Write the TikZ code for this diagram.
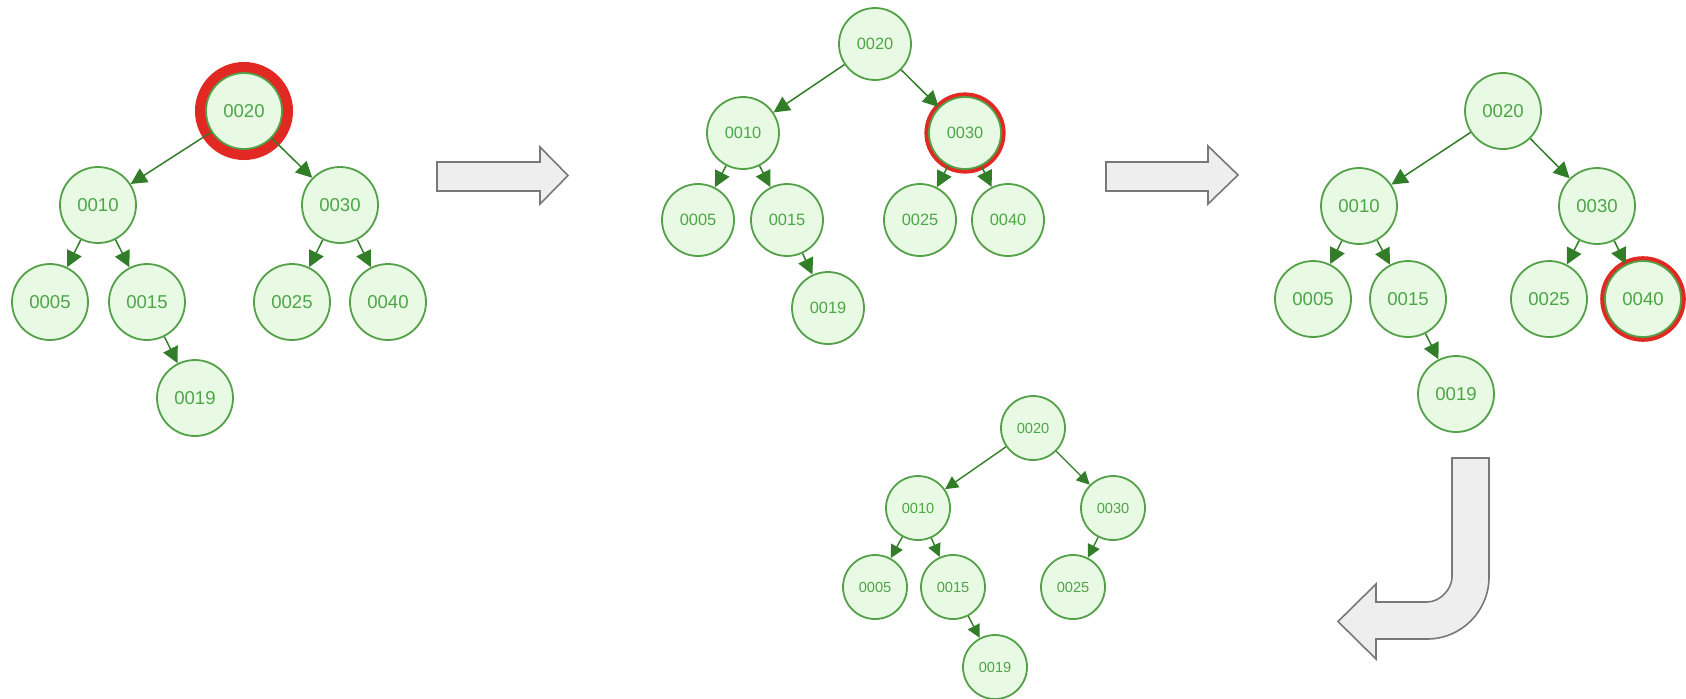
\documentclass[tikz,border=0pt]{standalone}
\usepackage{fontspec}
\setmainfont{Liberation Sans}
\usetikzlibrary{arrows.meta}
\pgfdeclarelayer{background}
\pgfsetlayers{background,main}
\definecolor{nodefill}{RGB}{232,250,228}
\definecolor{nodeline}{RGB}{84,160,72}
\definecolor{nodetext}{RGB}{78,165,72}
\definecolor{edgeline}{RGB}{50,125,40}
\definecolor{ringred}{RGB}{225,40,35}
\definecolor{bigfill}{RGB}{238,238,238}
\definecolor{bigline}{RGB}{120,120,120}
\tikzset{
  tn/.style={circle, draw=nodeline, fill=nodefill, text=nodetext, line width=0.9pt, inner sep=0pt},
  tnA/.style={tn, minimum size=38pt, font=\fontsize{9.3}{11}\selectfont},
  tnB/.style={tn, minimum size=36pt, font=\fontsize{8.2}{10}\selectfont},
  tnD/.style={tn, minimum size=32pt, font=\fontsize{7.3}{9}\selectfont},
  edgeA/.style={draw=edgeline, line width=0.75pt, -{Triangle[length=8pt,width=8pt]}, fill=edgeline},
  edgeD/.style={draw=edgeline, line width=0.7pt, -{Triangle[length=6.5pt,width=6.5pt]}, fill=edgeline},
  bigarrow/.style={draw=bigline, fill=bigfill, line width=0.8pt, line join=miter},
  ring/.style={draw=ringred}
}
\begin{document}
\begin{tikzpicture}[x=0.5pt, y=-0.5pt]
\useasboundingbox (0,0) rectangle (1686,698);
% ---------- tree 1 ----------
\node[tnA] (a20) at (244,111) {0020};
\node[tnA] (a10) at (98,205) {0010};
\node[tnA] (a30) at (340,205) {0030};
\node[tnA] (a05) at (50,302) {0005};
\node[tnA] (a15) at (147,302) {0015};
\node[tnA] (a25) at (292,302) {0025};
\node[tnA] (a40) at (388,302) {0040};
\node[tnA] (a19) at (195,398) {0019};
% ---------- tree 2 ----------
\node[tnB] (b20) at (875,44) {0020};
\node[tnB] (b10) at (743,133) {0010};
\node[tnB] (b30) at (965,133) {0030};
\node[tnB] (b05) at (698,220) {0005};
\node[tnB] (b15) at (787,220) {0015};
\node[tnB] (b25) at (920,220) {0025};
\node[tnB] (b40) at (1008,220) {0040};
\node[tnB] (b19) at (828,308) {0019};
% ---------- tree 3 ----------
\node[tnA] (c20) at (1503,111) {0020};
\node[tnA] (c10) at (1359,206) {0010};
\node[tnA] (c30) at (1597,206) {0030};
\node[tnA] (c05) at (1313,299) {0005};
\node[tnA] (c15) at (1408,299) {0015};
\node[tnA] (c25) at (1549,299) {0025};
\node[tnA] (c40) at (1643,299) {0040};
\node[tnA] (c19) at (1456,394) {0019};
% ---------- tree 4 ----------
\node[tnD] (d20) at (1033,428) {0020};
\node[tnD] (d10) at (918,508) {0010};
\node[tnD] (d30) at (1113,508) {0030};
\node[tnD] (d05) at (875,587) {0005};
\node[tnD] (d15) at (953,587) {0015};
\node[tnD] (d25) at (1073,587) {0025};
\node[tnD] (d19) at (995,667) {0019};
% ---------- background: white page + red rings ----------
\begin{pgfonlayer}{background}
\fill[white] (0,0) rectangle (1686,698);
\draw[ring, line width=6pt] (a20.center) circle[radius=21.5pt];
\draw[ring, line width=2.6pt] (b30.center) circle[radius=19pt];
\draw[ring, line width=3.6pt] (c40.center) circle[radius=19.6pt];
\end{pgfonlayer}
% ---------- edges ----------
\foreach \p/\c in {a20/a10,a20/a30,a10/a05,a10/a15,a15/a19,a30/a25,a30/a40,
                   b20/b10,b20/b30,b10/b05,b10/b15,b15/b19,b30/b25,b30/b40,
                   c20/c10,c20/c30,c10/c05,c10/c15,c15/c19,c30/c25,c30/c40}
  \draw[edgeA] (\p) -- (\c);
\foreach \p/\c in {d20/d10,d20/d30,d10/d05,d10/d15,d15/d19,d30/d25}
  \draw[edgeD] (\p) -- (\c);
% ---------- big arrows ----------
\draw[bigarrow] (437,162) -- (540,162) -- (540,147) -- (568,175.5) -- (540,204) -- (540,191) -- (437,191) -- cycle;
\draw[bigarrow] (1106,162) -- (1208,162) -- (1208,146) -- (1238,175) -- (1208,204) -- (1208,191) -- (1106,191) -- cycle;
\draw[bigarrow] (1452,458) -- (1489,458) -- (1489,577)
  .. controls (1489,611.2) and (1461.2,639) .. (1427,639)
  -- (1376,639) -- (1376,659) -- (1338,621.5) -- (1376,584) -- (1376,602) -- (1427,602)
  .. controls (1440.8,602) and (1452,588.2) .. (1452,577) -- cycle;
\end{tikzpicture}
\end{document}
